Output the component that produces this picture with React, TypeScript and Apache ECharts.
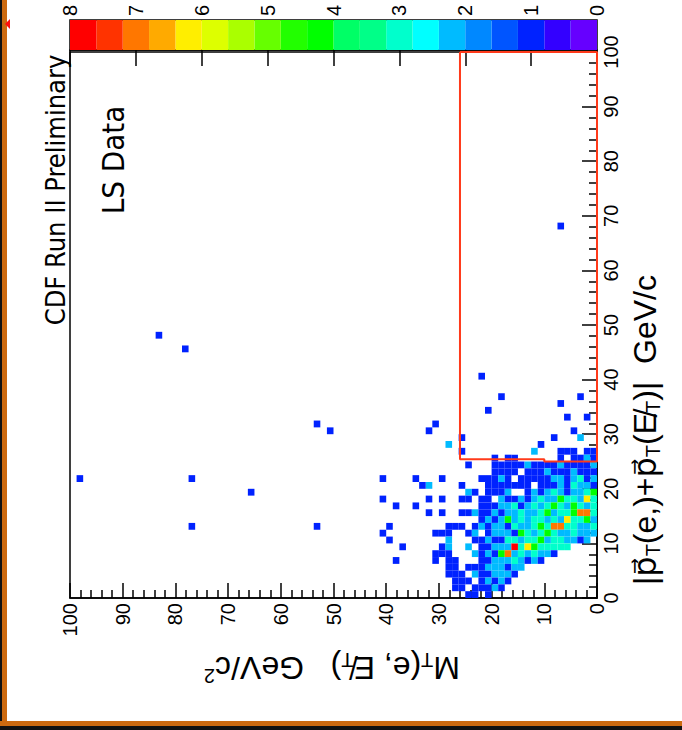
import React, { useEffect, useRef } from "react";
import * as echarts from "echarts";

// bin width of the 2D histogram (GeV)
const BIN = 1.25;

// Dense region: rows from pT bin 21 (top) down to 0; columns from MT bin 25 (left) to 0 (right)
const countsGrid: number[][] = [
  [0,0,0,0,0,1,0,0,0,0,0,0,0,0,0,0,2,0,0,0,1,1,1,0,1,1],
  [0,0,0,0,0,0,0,0,0,0,1,0,1,1,0,0,0,0,0,0,1,0,1,1,2,1],
  [0,0,0,0,0,0,1,0,0,0,1,1,1,1,1,2,1,1,1,1,2,1,1,1,1,2],
  [0,0,0,0,0,0,0,0,0,0,1,1,1,1,0,1,1,1,2,1,1,1,2,1,1,1],
  [0,0,1,0,0,0,0,0,1,1,1,2,1,0,1,1,1,1,1,2,2,1,2,3,1,2],
  [2,0,0,0,0,1,0,0,0,1,1,1,1,1,1,1,0,1,1,1,2,1,3,2,2,1],
  [0,0,0,0,0,0,2,1,0,1,1,1,2,0,0,1,2,1,2,3,2,1,2,2,3,4],
  [1,0,1,0,0,1,1,0,1,1,0,2,1,1,2,1,2,3,2,2,4,3,3,2,6,3],
  [0,0,0,0,0,0,0,0,1,1,1,2,2,3,1,2,3,2,3,4,3,2,4,3,2,3],
  [1,0,1,0,0,1,1,2,1,1,2,1,2,2,3,2,2,3,4,2,3,3,4,7,7,3],
  [0,0,0,0,0,0,0,0,1,2,1,2,4,2,3,2,3,3,2,3,2,6,3,3,4,2],
  [0,0,0,1,1,1,0,1,2,1,2,2,1,3,2,2,3,4,3,7,7,3,3,2,2,3],
  [0,1,1,1,0,0,1,2,0,1,2,2,2,1,4,3,2,3,4,3,2,2,3,2,2,2],
  [0,0,0,2,0,0,0,1,1,2,1,1,3,3,2,3,3,4,2,3,3,2,2,1,2,0],
  [0,0,1,2,0,0,2,0,1,1,2,2,2,8,3,6,4,3,3,3,3,3,0,0,0,0],
  [0,1,1,1,0,0,0,2,1,2,1,4,7,2,3,2,3,2,2,1,0,0,0,0,0,0],
  [0,1,0,1,1,0,0,0,1,1,2,2,2,3,2,1,2,1,0,0,0,0,0,0,0,0],
  [0,0,0,1,1,0,1,1,1,2,2,2,1,2,2,0,0,0,0,0,0,0,0,0,0,0],
  [0,0,0,1,1,1,0,2,1,1,2,2,2,1,0,0,0,0,0,0,0,0,0,0,0,0],
  [0,0,0,0,1,1,1,0,1,2,1,2,1,0,0,0,0,0,0,0,0,0,0,0,0,0],
  [0,0,0,0,1,1,0,1,1,1,2,1,0,0,0,0,0,0,0,0,0,0,0,0,0,0],
  [0,0,0,0,0,0,1,1,0,1,0,0,0,0,0,0,0,0,0,0,0,0,0,0,0,0],
];
const gridTopPtBin = 21;
const gridLeftMtBin = 25;

// Isolated cells: [MT bin low edge, pT bin low edge, count]
const sparseCells: number[][] = [
  [97.5, 21.25, 1], [82.5, 47.5, 1], [77.5, 45, 1], [76.25, 21.25, 1], [76.25, 12.5, 1],
  [65, 18.75, 1], [52.5, 31.25, 1], [50, 30, 1], [52.5, 12.5, 1], [6.25, 67.5, 1],
  [21.25, 40, 1], [30, 31.25, 1], [31.25, 30, 1], [25, 28.75, 1], [27.5, 27.5, 2],
  [17.5, 36.25, 1], [20, 33.75, 1], [2.5, 36.25, 1], [6.25, 35, 1], [5, 32.5, 1],
  [1.25, 32.5, 1], [3.75, 30, 1], [2.5, 28.75, 2], [7.5, 28.75, 1], [10, 27.5, 1],
  [40, 21.25, 1], [33.75, 21.25, 1], [32.5, 20, 1], [40, 17.5, 1], [37.5, 16.25, 1],
  [33.75, 16.25, 1], [38.75, 12.5, 1], [40, 11.25, 1], [38.75, 10, 1], [36.25, 8.75, 1],
  [37.5, 6.25, 1],
];

// colour palette contour levels (z) and colours, low to high
const paletteLevels = [0, 0.4, 0.8, 1.2, 1.6, 2, 2.4, 2.8, 3.2, 3.6, 4, 4.4, 4.8, 5.2, 5.6, 6, 6.4, 6.8, 7.2, 7.6, 8];
const paletteColors = [
  "#6600FF", "#3300FF", "#0022FF", "#0055FF", "#0088FF", "#00BBFF", "#00FFFF", "#00FFCC", "#00FF88", "#00FF66",
  "#00FF00", "#22FF00", "#66FF00", "#AAFF00", "#DDFF00", "#FFEE00", "#FFAA00", "#FF7700", "#FF3300", "#FF0000",
];

// signal-region box (MT, pT)
const boxPath: number[][] = [[26, 100], [26, 25.4], [10, 25.4], [10, 25], [0, 25], [0, 100], [26, 100]];

function colorOf(v: number): string {
  let k = 0;
  for (let i = 0; i < paletteLevels.length - 1; i++) {
    if (v >= paletteLevels[i] - 1e-9) k = i;
  }
  return paletteColors[Math.min(k, paletteColors.length - 1)];
}

function buildCells(): number[][] {
  const out: number[][] = [];
  countsGrid.forEach((row, r) => {
    row.forEach((v, c) => {
      if (v > 0) out.push([(gridLeftMtBin - c) * BIN, (gridTopPtBin - r) * BIN, v]);
    });
  });
  sparseCells.forEach((s) => out.push(s));
  return out;
}

const LABEL_FONT = '"Liberation Sans", Arial, sans-serif';
const NARROW_FONT = '"Liberation Sans Narrow", "DejaVu Sans Condensed", "Liberation Sans", sans-serif';

export default function App() {
  const ref = useRef<HTMLDivElement>(null);
  useEffect(() => {
    if (!ref.current) return;
    const chart = echarts.init(ref.current, undefined, { renderer: "svg" });
    const cells = buildCells();
    const bands = paletteColors.map((_, k) => [paletteLevels[k], paletteLevels[k + 1], k]);
    const tickStyle = { color: "#000", width: 1.5 };
    const sub = { fontSize: 20, fontFamily: LABEL_FONT, verticalAlign: "bottom", lineHeight: 36 };
    const sup = { fontSize: 20, fontFamily: LABEL_FONT, verticalAlign: "top", lineHeight: 36 };
    const norm = { fontSize: 32, fontFamily: LABEL_FONT, lineHeight: 36 };
    const vec = { fontSize: 32, fontFamily: '"DejaVu Sans", sans-serif', lineHeight: 36 };
    const option: any = {
      animation: false,
      backgroundColor: "#ffffff",
      grid: [
        { left: 70, top: 52, width: 527, height: 546, show: true, borderColor: "#000", borderWidth: 1.5, backgroundColor: "transparent" },
        { left: 70, top: 20, width: 527, height: 30, show: true, borderColor: "#000", borderWidth: 1.5, backgroundColor: "transparent" },
      ],
      xAxis: [
        {
          gridIndex: 0, type: "value", min: 0, max: 100, interval: 10, inverse: true, position: "bottom",
          axisLine: { show: true, lineStyle: tickStyle },
          axisTick: { show: true, inside: true, length: 15, lineStyle: tickStyle },
          minorTick: { show: true, splitNumber: 5, length: 8, lineStyle: tickStyle },
          splitLine: { show: false },
          axisLabel: { rotate: 90, fontSize: 20, color: "#000", fontFamily: LABEL_FONT, margin: 5 },
        },
        {
          gridIndex: 1, type: "value", min: 0, max: 8, interval: 1, inverse: true, position: "top",
          axisLine: { show: true, lineStyle: tickStyle },
          axisTick: { show: true, inside: true, length: 16, lineStyle: tickStyle },
          splitLine: { show: false },
          axisLabel: { rotate: 90, fontSize: 20, color: "#000", fontFamily: LABEL_FONT, margin: 4 },
        },
      ],
      yAxis: [
        {
          gridIndex: 0, type: "value", min: 0, max: 100, interval: 10, position: "right",
          axisLine: { show: true, lineStyle: tickStyle },
          axisTick: { show: true, inside: true, length: 15, lineStyle: tickStyle },
          minorTick: { show: true, splitNumber: 5, length: 8, lineStyle: tickStyle },
          splitLine: { show: false },
          axisLabel: { rotate: 90, fontSize: 20, color: "#000", fontFamily: LABEL_FONT, margin: 4 },
        },
        { gridIndex: 1, type: "value", min: 0, max: 1, show: false },
      ],
      series: [
        {
          type: "custom", xAxisIndex: 0, yAxisIndex: 0, data: cells, z: 2,
          renderItem: (_p: any, api: any) => {
            const x0 = api.value(0), y0 = api.value(1), v = api.value(2);
            const a = api.coord([x0, y0]);
            const b = api.coord([x0 + BIN, y0 + BIN]);
            return {
              type: "rect",
              shape: { x: Math.min(a[0], b[0]), y: Math.min(a[1], b[1]), width: Math.abs(b[0] - a[0]), height: Math.abs(b[1] - a[1]) },
              style: { fill: colorOf(v) },
            };
          },
        },
        {
          type: "custom", xAxisIndex: 1, yAxisIndex: 1, data: bands, z: 2,
          renderItem: (_p: any, api: any) => {
            const a = api.coord([api.value(0), 0]);
            const b = api.coord([api.value(1), 1]);
            return {
              type: "rect",
              shape: { x: Math.min(a[0], b[0]), y: Math.min(a[1], b[1]), width: Math.abs(b[0] - a[0]), height: Math.abs(b[1] - a[1]) },
              style: { fill: paletteColors[api.value(2)] },
            };
          },
        },
        {
          type: "line", xAxisIndex: 0, yAxisIndex: 0, data: boxPath, symbol: "none", clip: false, z: 4,
          lineStyle: { color: "#FF3A1A", width: 2 },
        },
      ],
      graphic: [
        { type: "rect", shape: { x: 0, y: 0, width: 2, height: 730 }, style: { fill: "#111" } },
        { type: "rect", shape: { x: 2, y: 0, width: 5, height: 726 }, style: { fill: "#CC6A10" } },
        { type: "rect", shape: { x: 0, y: 721, width: 682, height: 5 }, style: { fill: "#CC6A10" } },
        { type: "rect", shape: { x: 0, y: 726, width: 682, height: 4 }, style: { fill: "#111" } },
        { type: "polygon", shape: { points: [[10, 19], [10, 29], [5, 24]] }, style: { fill: "#FF1010" } },
        {
          type: "text", x: 55, y: 190, rotation: Math.PI / 2,
          style: { text: "CDF Run II Preliminary", fontSize: 27, fontFamily: NARROW_FONT, fill: "#000", align: "center", verticalAlign: "middle" },
        },
        {
          type: "text", x: 113, y: 160, rotation: Math.PI / 2,
          style: { text: "LS Data", fontSize: 31, fontFamily: NARROW_FONT, fill: "#000", align: "center", verticalAlign: "middle" },
        },
        {
          type: "text", x: 332, y: 668, rotation: Math.PI,
          style: {
            text: "{n|M}{s|T}{n|(e, E\u0338}{s|T}{n|)   GeV/c}{p|2}",
            rich: { n: norm, s: sub, p: sup }, fill: "#000", align: "center", verticalAlign: "middle",
          },
        },
        {
          type: "text", x: 645, y: 430, rotation: Math.PI / 2,
          style: {
            text: "{n||}{v|p\u20D7}{s|T}{n|(e,)+}{v|p\u20D7}{s|T}{n|(E\u0338}{s|T}{n|)|  GeV/c}",
            rich: { n: norm, s: sub, v: vec }, fill: "#000", align: "center", verticalAlign: "middle",
          },
        },
      ],
    };
    chart.setOption(option);
    return () => chart.dispose();
  }, []);
  return <div ref={ref} style={{ position: "absolute", left: 0, top: 0, width: 682, height: 730 }} />;
}
